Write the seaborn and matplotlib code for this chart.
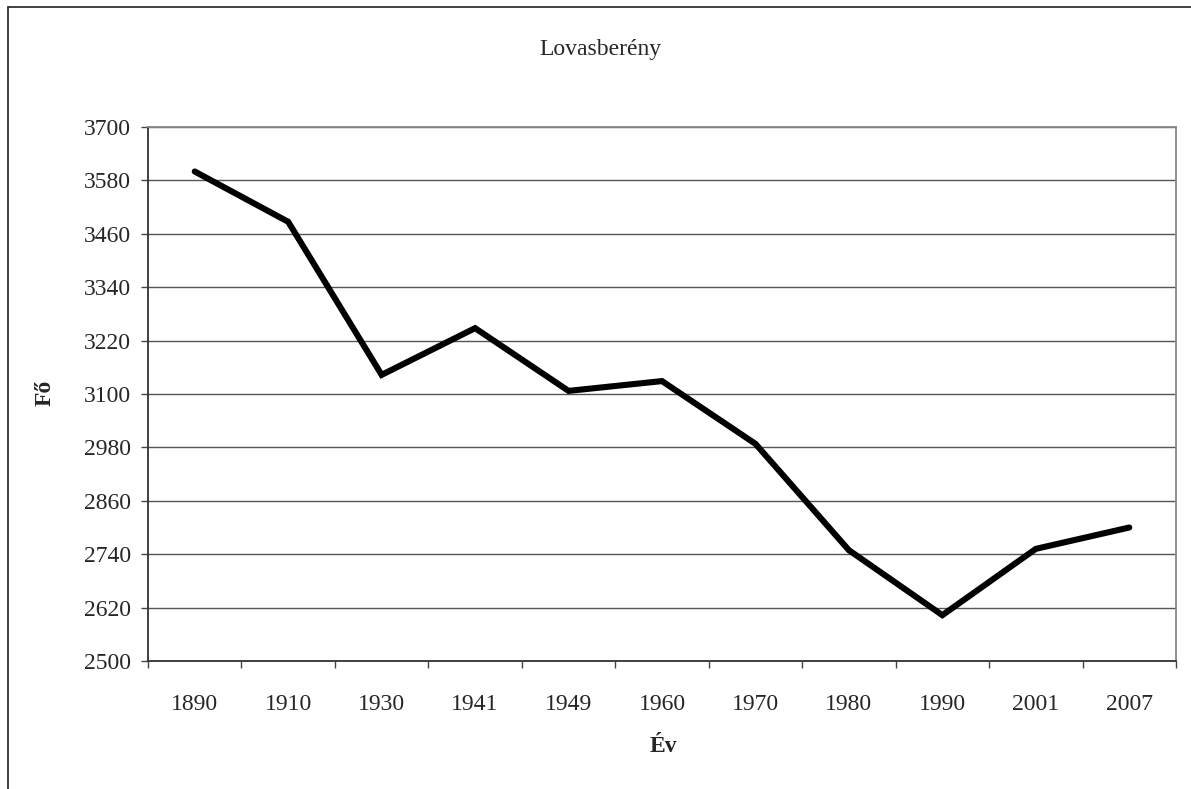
import numpy as np
import pandas as pd
import matplotlib
import matplotlib.pyplot as plt
from matplotlib.lines import Line2D
import seaborn as sns

matplotlib.use('Agg')

# adatok - Lovasberény népessége
evek = ['1890', '1910', '1930', '1941', '1949', '1960', '1970', '1980', '1990', '2001', '2007']
fo = [3600, 3487, 3143, 3248, 3107, 3129, 2988, 2749, 2603, 2752, 2800]
y_ticks = [2500, 2620, 2740, 2860, 2980, 3100, 3220, 3340, 3460, 3580, 3700]

df = pd.DataFrame({'ev': evek, 'fo': fo})
df['pos'] = np.arange(len(evek))

sns.set_style('white')
plt.rcParams['font.family'] = ['Liberation Serif', 'DejaVu Serif']

W, H = 1191, 789
fig = plt.figure(figsize=(W / 100, H / 100), dpi=100)
ax = fig.add_axes([148 / W, (H - 661) / H, (1176 - 148) / W, (661 - 127) / H])

sns.lineplot(data=df, x='pos', y='fo', ax=ax, color='black', linewidth=4.4,
             solid_capstyle='round', solid_joinstyle='miter')

ax.set_ylim(2500, 3700)
ax.set_yticks(y_ticks)
ax.yaxis.grid(True, color='#555555', linewidth=1.0)
ax.set_axisbelow(True)

# x tengely: kategóriák, tick a határokon
ax.set_xlim(-0.5, len(evek) - 0.5)
ax.set_xticks(np.arange(-0.5, len(evek)), minor=False)
ax.set_xticklabels([])
ax.set_xticks(df['pos'], minor=True)
ax.set_xticklabels(evek, minor=True)

ax.tick_params(axis='y', which='major', direction='out', length=5, width=1,
               color='#444444', labelsize=17, pad=7, left=True)
ax.tick_params(axis='x', which='major', direction='out', length=5, width=1,
               color='#444444', bottom=True)
ax.tick_params(axis='x', which='minor', length=0, labelsize=17, pad=24)

for s in ['left', 'bottom']:
    ax.spines[s].set_color('#333333')
    ax.spines[s].set_linewidth(1.3)
for s in ['top', 'right']:
    ax.spines[s].set_color('#888888')
    ax.spines[s].set_linewidth(1.3)

ax.set_xlabel('')
ax.set_ylabel('')
fig.text(663 / W, 1 - 747 / H, 'Év', ha='center', va='center', fontsize=17, fontweight='bold')
fig.text(45 / W, 1 - 393 / H, 'Fő', ha='center', va='center', fontsize=17,
         fontweight='bold', rotation=90)
fig.text(600 / W, 1 - 50 / H, 'Lovasberény', ha='center', va='center', fontsize=17)

# keret a diagram körül
fig.add_artist(Line2D([7.5 / W, 7.5 / W], [0, 1 - 6.5 / H], transform=fig.transFigure,
                      color='#333333', linewidth=1.3))
fig.add_artist(Line2D([7.5 / W, 1], [1 - 6.5 / H, 1 - 6.5 / H], transform=fig.transFigure,
                      color='#333333', linewidth=1.3))

fig.savefig('out.png', dpi=100, facecolor='white')
